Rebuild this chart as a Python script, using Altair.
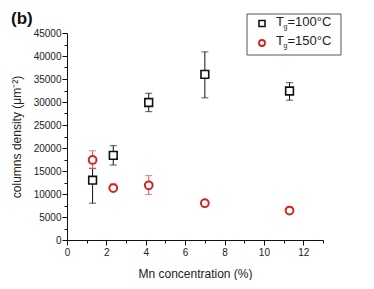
import altair as alt
import pandas as pd

# ---- data ----
conc = [1.3, 2.35, 4.15, 7.0, 11.3]
t100 = [13000, 18400, 29900, 36000, 32400]
t100_lo = [8000, 16300, 27900, 30900, 30400]
t100_hi = [15600, 20500, 31900, 40900, 34200]
t150 = [17400, 11300, 11900, 8000, 6400]
t150_lo = [15500, 10900, 9900, 8000, 6400]
t150_hi = [19400, 12200, 14000, 8000, 6400]

x_ticks = list(range(0, 14))
y_ticks = list(range(0, 45001, 2500))

FONT = "Liberation Sans"
BLACK = "#111111"
RED = "#d42222"
RED_BAR = "#d65050"

d100 = pd.DataFrame({"x": conc, "y": t100, "lo": t100_lo, "hi": t100_hi})
d150 = pd.DataFrame({"x": conc, "y": t150, "lo": t150_lo, "hi": t150_hi})

xs = alt.Scale(domain=[0, 13], nice=False, zero=False)
ys = alt.Scale(domain=[0, 45000], nice=False)

xaxis = alt.Axis(
    values=x_ticks,
    labelExpr="datum.value % 2 === 0 ? datum.label : ''",
    tickSize={"condition": {"test": "datum.value % 2 === 0", "value": 5}, "value": 3},
    title="Mn concentration (%)",
    grid=False,
    labelFontSize=10, titleFontSize=12, titleFontWeight="normal",
    labelFont=FONT, titleFont=FONT, labelColor="#222", titleColor="#222",
    domainColor=BLACK, tickColor=BLACK, labelPadding=2, titlePadding=11,
    labelFlush=False, labelOverlap=False,
)
yaxis = alt.Axis(
    values=y_ticks,
    format="d",
    labelExpr="datum.value % 5000 === 0 ? datum.label : ''",
    tickSize={"condition": {"test": "datum.value % 5000 === 0", "value": 5}, "value": 3},
    title="columns density (μm⁻²)",
    grid=False,
    labelFontSize=10, titleFontSize=12, titleFontWeight="normal",
    labelFont=FONT, titleFont=FONT, labelColor="#222", titleColor="#222",
    domainColor=BLACK, tickColor=BLACK, labelPadding=1, titlePadding=10,
    labelFlush=False, labelOverlap=False,
)

def bars(df, color):
    base = alt.Chart(df)
    rule = base.mark_rule(color=color, strokeWidth=1).encode(
        x=alt.X("x:Q", scale=xs, axis=xaxis), y=alt.Y("lo:Q", scale=ys, axis=yaxis), y2="hi:Q")
    cap_lo = base.mark_tick(color=color, orient="horizontal", size=7, thickness=1).encode(
        x=alt.X("x:Q", scale=xs, axis=xaxis), y=alt.Y("lo:Q", scale=ys, axis=yaxis))
    cap_hi = base.mark_tick(color=color, orient="horizontal", size=7, thickness=1).encode(
        x=alt.X("x:Q", scale=xs, axis=xaxis), y=alt.Y("hi:Q", scale=ys, axis=yaxis))
    return rule + cap_lo + cap_hi

pts100 = alt.Chart(d100).mark_point(shape="square", size=60, filled=True, fill="white",
                                     stroke=BLACK, strokeWidth=1.6, opacity=1).encode(
    x=alt.X("x:Q", scale=xs, axis=xaxis), y=alt.Y("y:Q", scale=ys, axis=yaxis))
pts150 = alt.Chart(d150).mark_point(shape="circle", size=60, filled=True, fill="white",
                                     stroke=RED, strokeWidth=2, opacity=1).encode(
    x=alt.X("x:Q", scale=xs, axis=xaxis), y=alt.Y("y:Q", scale=ys, axis=yaxis))

# ---- manual legend (with subscript g) ----
one = pd.DataFrame({"a": [0]})
leg_box = alt.Chart(one).mark_rect(fill="white", stroke="#555555", strokeWidth=1).encode(
    x=alt.value(180), x2=alt.value(274), y=alt.value(-19), y2=alt.value(22))
leg_sq = alt.Chart(one).mark_point(shape="square", size=36, filled=True, fill="white",
                                   stroke=BLACK, strokeWidth=1.6, opacity=1).encode(
    x=alt.value(195), y=alt.value(-9.5))
leg_ci = alt.Chart(one).mark_point(shape="circle", size=36, filled=True, fill="white",
                                   stroke=RED, strokeWidth=1.8, opacity=1).encode(
    x=alt.value(195), y=alt.value(10))

legend_main = ["T", "T"]
legend_sub = ["g", "g"]
legend_rest = ["=100°C", "=150°C"]
legend_layers = []
for i, yy in enumerate([-11.5, 7.5]):
    t = pd.DataFrame({"m": [legend_main[i]], "s": [legend_sub[i]], "r": [legend_rest[i]]})
    legend_layers.append(alt.Chart(t).mark_text(align="left", baseline="middle", font=FONT,
                                                fontSize=13, color="#222").encode(
        text="m:N", x=alt.value(209), y=alt.value(yy)))
    legend_layers.append(alt.Chart(t).mark_text(align="left", baseline="alphabetic", font=FONT,
                                                fontSize=7, color="#222").encode(
        text="s:N", x=alt.value(216.5), y=alt.value(yy + 7.5)))
    legend_layers.append(alt.Chart(t).mark_text(align="left", baseline="middle", font=FONT,
                                                fontSize=13, color="#222").encode(
        text="r:N", x=alt.value(220.5), y=alt.value(yy)))

panel_label = alt.Chart(pd.DataFrame({"t": ["(b)"]})).mark_text(
    align="left", baseline="alphabetic", font=FONT, fontSize=17, fontWeight="bold",
    color="#111").encode(text="t:N", x=alt.value(-56), y=alt.value(-9))

chart = alt.layer(
    bars(d100, BLACK), bars(d150, RED_BAR), pts100, pts150,
    leg_box, leg_sq, leg_ci, *legend_layers, panel_label
).properties(
    width=256, height=207,
    autosize=alt.AutoSizeParams(type="none"),
    padding={"left": 59, "top": 25, "right": 30, "bottom": 40},
    background="white",
).configure_view(stroke=None).configure_axis(labelOverlap=False, labelSeparation=0)

chart.save("out.html", embed_options={"renderer": "svg", "actions": False})
